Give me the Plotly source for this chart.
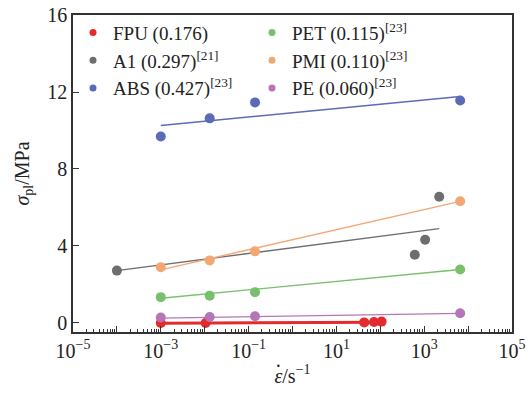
import plotly.graph_objects as go

# ---- data ----
names = ["FPU (0.176)", "PET (0.115)<sup>[23]</sup>", "A1 (0.297)<sup>[21]</sup>",
         "PMI (0.110)<sup>[23]</sup>", "ABS (0.427)<sup>[23]</sup>", "PE (0.060)<sup>[23]</sup>"]
colors = ["#e32a2c", "#78c06c", "#6e6e70", "#f3a774", "#5b6cb6", "#b476b7"]

fpu_x = [1e-3, 1.05e-2, 43, 72, 107]
fpu_y = [0.0, 0.0, 0.03, 0.05, 0.07]
pet_x = [1e-3, 1.3e-2, 1.4e-1, 6600]
pet_y = [1.34, 1.42, 1.60, 2.78]
a1_x = [1e-4, 610, 1050, 2200]
a1_y = [2.72, 3.54, 4.32, 6.56]
pmi_x = [1e-3, 1.3e-2, 1.4e-1, 6600]
pmi_y = [2.90, 3.25, 3.72, 6.32]
abs_x = [1e-3, 1.3e-2, 1.4e-1, 6600]
abs_y = [9.69, 10.63, 11.46, 11.56]
pe_x = [1e-3, 1.3e-2, 1.4e-1, 6600]
pe_y = [0.28, 0.31, 0.35, 0.50]

xs = [fpu_x, pet_x, a1_x, pmi_x, abs_x, pe_x]
ys = [fpu_y, pet_y, a1_y, pmi_y, abs_y, pe_y]

# fitted lines (start/end)
fit_x = [[1e-3, 107], [1e-3, 6600], [1e-4, 2200], [1e-3, 6600], [1e-3, 6600], [1e-3, 6600]]
fit_y = [[-0.02, 0.04], [1.28, 2.78], [2.72, 4.9], [2.76, 6.32], [10.26, 11.77], [0.25, 0.50]]
fit_w = [3, 1.4, 1.4, 1.4, 1.4, 1.4]

xtick_exp = list(range(-5, 6))
ytick_vals = [0, 4, 8, 12, 16]

fig = go.Figure()
for i in range(6):
    fig.add_trace(go.Scatter(x=fit_x[i], y=fit_y[i], mode="lines",
                             line=dict(color=colors[i], width=fit_w[i]),
                             showlegend=False, hoverinfo="skip"))
for i in range(6):
    fig.add_trace(go.Scatter(x=xs[i], y=ys[i], mode="markers", showlegend=False,
                             marker=dict(color=colors[i], size=10)))
# legend-only entries (smaller symbols, as in the reference)
for i in range(6):
    fig.add_trace(go.Scatter(x=[None], y=[None], mode="markers", name=names[i],
                             marker=dict(color=colors[i], size=7)))

tickvals = [10.0 ** e for e in xtick_exp]
ticktext = [("10<sup>%s</sup>" % (str(e).replace("-", "−"))) if e % 2 != 0 else "" for e in xtick_exp]
minor_vals = [m * 10.0 ** e for e in xtick_exp[:-1] for m in range(2, 10)]

font_family = "Liberation Serif, Times New Roman, serif"
fig.update_layout(
    width=531, height=394,
    margin=dict(l=73, r=19, t=15, b=62),
    paper_bgcolor="white", plot_bgcolor="white",
    font=dict(family=font_family, size=19, color="#222"),
    legend=dict(orientation="h", x=0.0, y=1.004, xanchor="left", yanchor="top",
                entrywidth=134, entrywidthmode="pixels", bgcolor="rgba(0,0,0,0)",
                font=dict(size=19, family=font_family), itemsizing="trace",
                tracegroupgap=0, itemwidth=30),
    showlegend=True,
    annotations=[dict(text="·", xref="paper", yref="paper", x=0.469, y=-0.107,
                      xanchor="center", yanchor="middle", showarrow=False,
                      font=dict(size=20, family=font_family, color="#222"))],
)
fig.update_xaxes(type="log", range=[-5, 5], tickmode="array", tickvals=tickvals, ticktext=ticktext,
                 ticks="inside", ticklen=6, tickcolor="#333", showgrid=False, zeroline=False,
                 showline=True, linecolor="#333", linewidth=1.5, mirror=True, automargin=False,
                 ticklabeloverflow="allow",
                 minor=dict(tickmode="array", tickvals=minor_vals, ticks="inside", ticklen=3,
                            tickcolor="#333", showgrid=False),
                 tickfont=dict(size=20),
                 title=dict(text="<i>ε</i>/s<sup>−1</sup>", font=dict(size=20), standoff=8))
fig.update_yaxes(range=[-0.47, 16.001], tickmode="array", tickvals=ytick_vals,
                 ticks="inside", ticklen=6, tickcolor="#333", showgrid=False, zeroline=False,
                 showline=True, linecolor="#333", linewidth=1.5, mirror=True, automargin=False,
                 ticklabeloverflow="allow",
                 tickfont=dict(size=20),
                 title=dict(text="<i>σ</i><sub>pl</sub>/MPa", font=dict(size=20), standoff=12))

fig.write_html("out.html", config={"displayModeBar": False},
               post_script="document.body.style.margin='0';document.body.style.overflow='hidden';")
